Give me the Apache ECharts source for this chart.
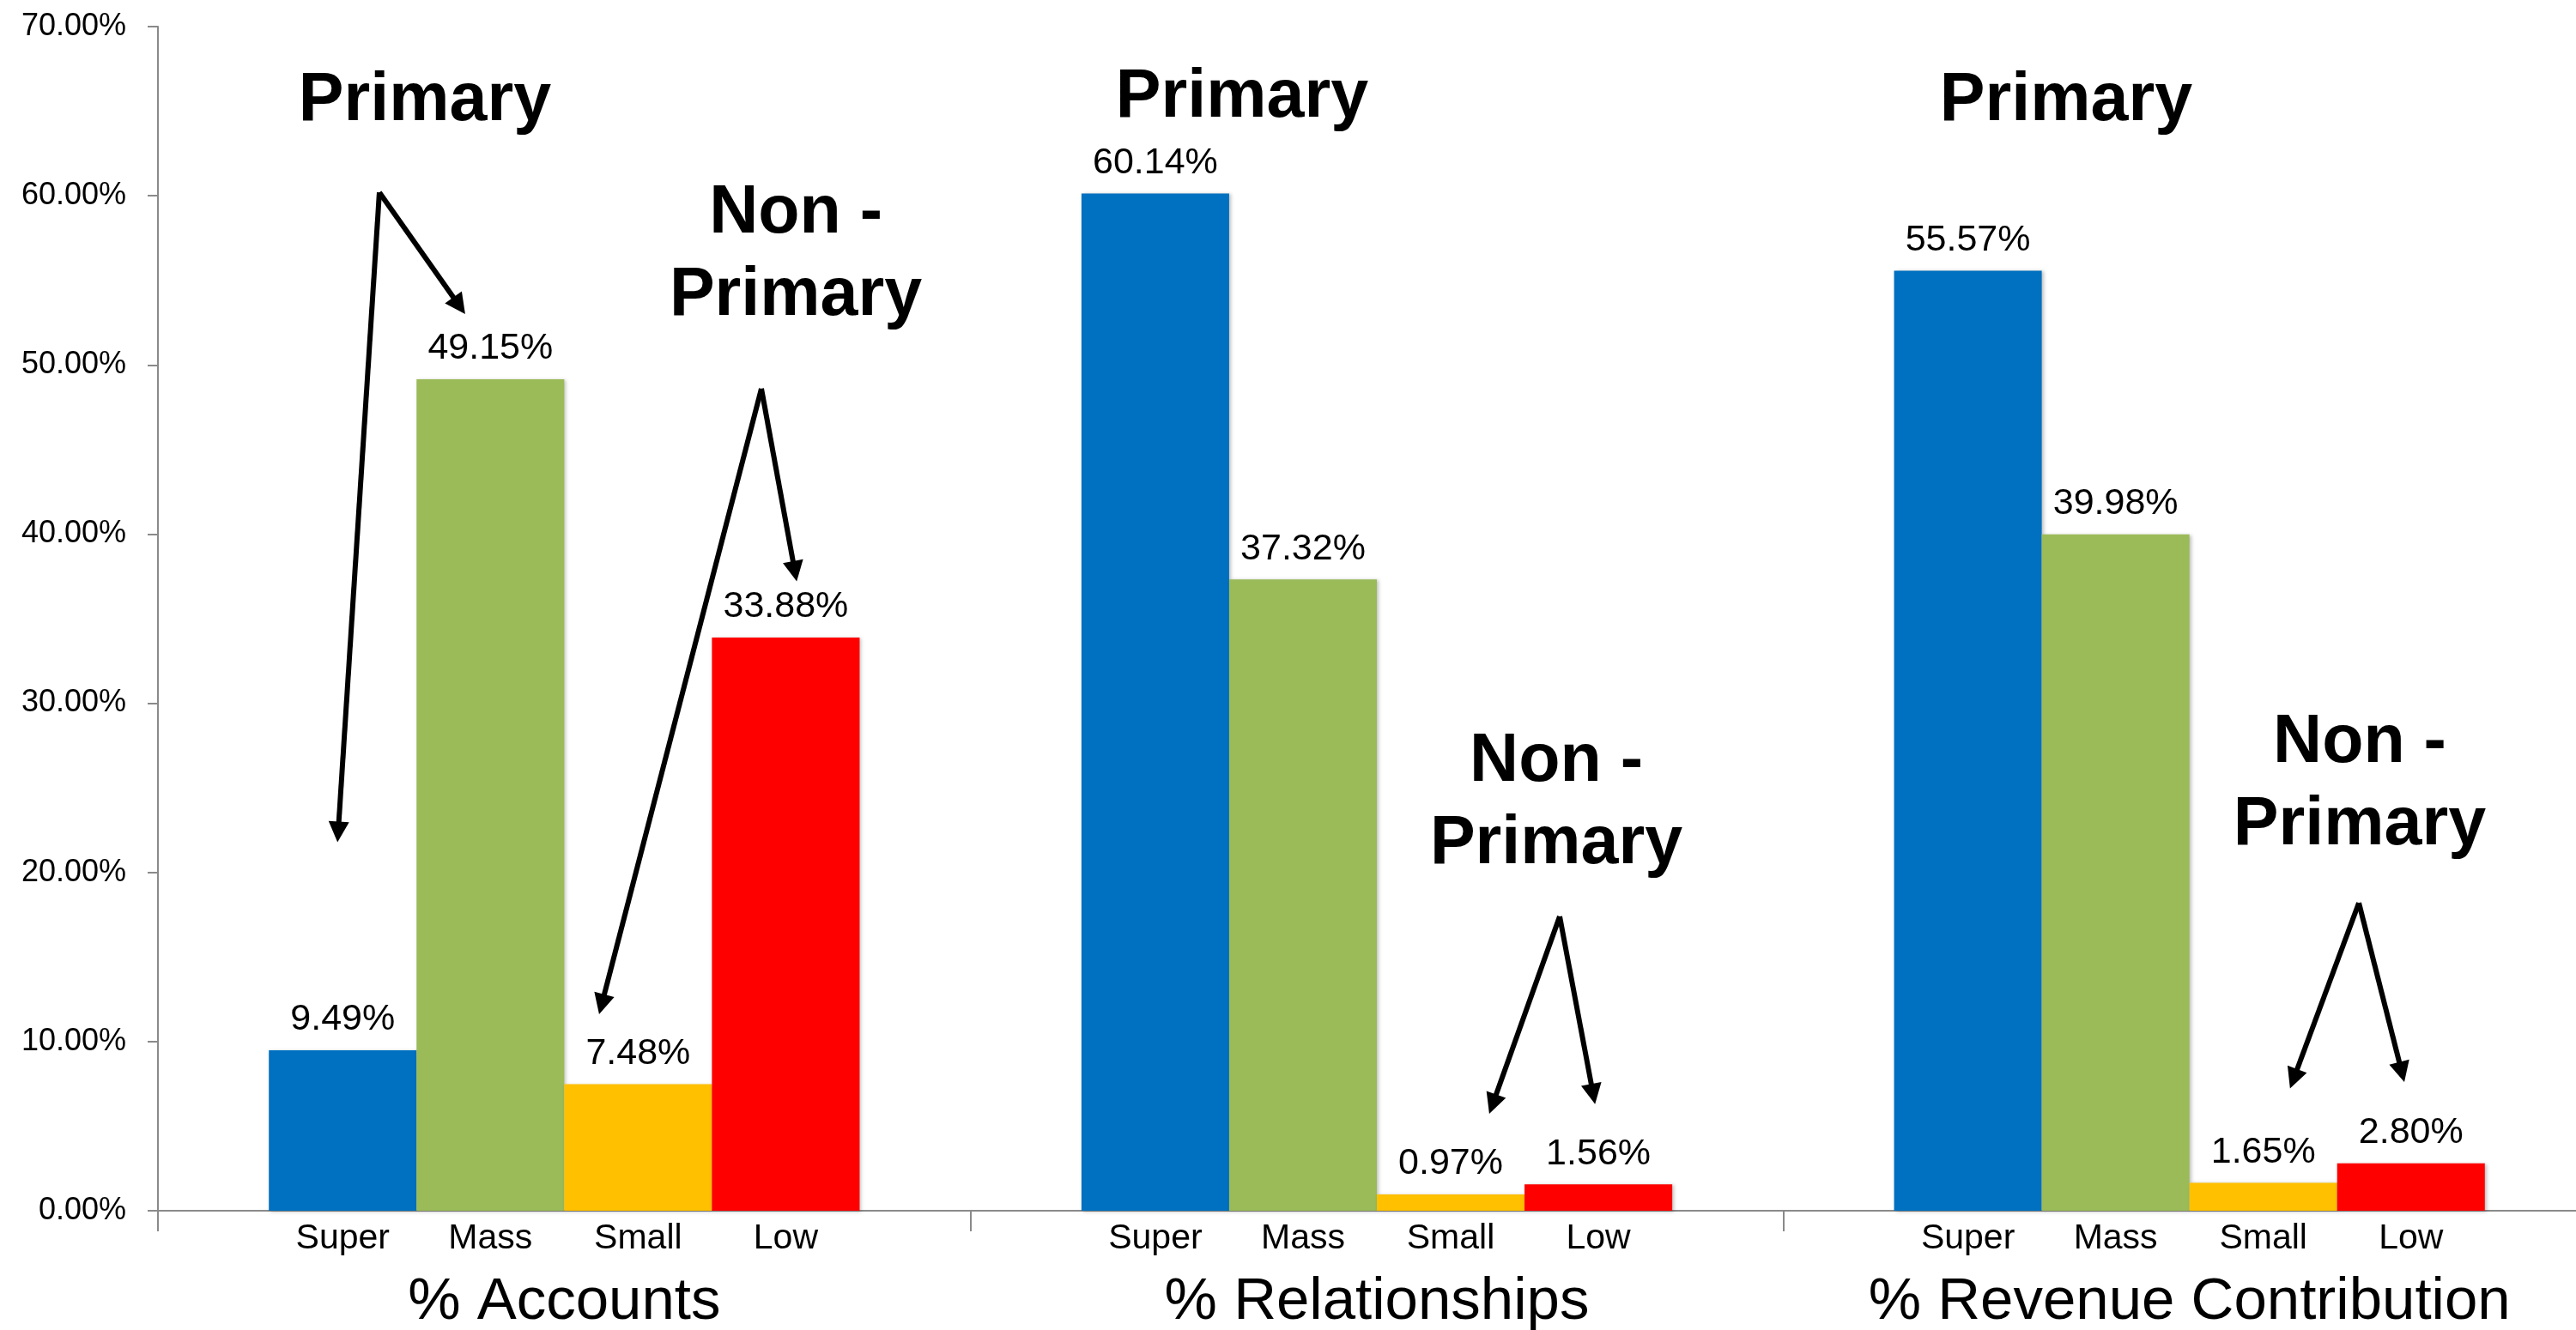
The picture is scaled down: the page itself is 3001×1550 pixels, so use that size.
<!DOCTYPE html>
<html>
<head>
<meta charset="utf-8">
<script src="https://cdn.jsdelivr.net/npm/echarts@6/dist/echarts.min.js"></script>
<style>
html,body{margin:0;padding:0;background:#fff;}
#chart{width:3001px;height:1550px;}
</style>
</head>
<body>
<div id="chart"></div>
<script>
// ---- data ----
const groups = ['% Accounts', '% Relationships', '% Revenue Contribution'];
const segments = ['Super', 'Mass', 'Small', 'Low'];
const superVals = [9.49, 60.14, 55.57];
const massVals = [49.15, 37.32, 39.98];
const smallVals = [7.48, 0.97, 1.65];
const lowVals = [33.88, 1.56, 2.80];
const segColors = ['#0070C0', '#9BBB59', '#FFC000', '#FF0000'];
const yMin = 0, yMax = 70, yStep = 10;

// annotation positions in (group units, percent) coordinates
const primaryLabelPos = [[0.3285, 65.6], [1.3341, 65.8], [2.3482, 65.6]];
const nonPrimaryLabelPos = [[0.7849, 56.5], [1.7208, 24.1], [2.7095, 25.2]];
const arrowLines = [
  [[0.2725, 60.2], [0.2218, 22.4]],
  [[0.2725, 60.2], [0.3708, 53.5]],
  [[0.7426, 48.6], [0.5461, 12.2]],
  [[0.7426, 48.6], [0.7838, 37.8]],
  [[1.7250, 17.4], [1.6426, 6.3]],
  [[1.7250, 17.4], [1.7662, 6.9]],
  [[2.7085, 18.2], [2.6282, 7.8]],
  [[2.7085, 18.2], [2.7613, 8.2]]
];

const seriesVals = [superVals, massVals, smallVals, lowVals];
const FONT = '"Liberation Sans", Arial, sans-serif';
const AXIS_GRAY = '#8a8a8a';

const chart = echarts.init(document.getElementById('chart'), null, {renderer: 'canvas'});

const barSeries = segments.map((name, si) => ({
  type: 'bar',
  name: name,
  xAxisIndex: 0,
  yAxisIndex: 0,
  data: seriesVals[si],
  barGap: '0%',
  barCategoryGap: '27.3%',
  itemStyle: {
    color: segColors[si],
    shadowColor: 'rgba(0,0,0,0.25)',
    shadowBlur: 4,
    shadowOffsetX: 2,
    shadowOffsetY: 1
  },
  label: {
    show: true,
    position: 'top',
    distance: 14,
    formatter: p => p.value.toFixed(2) + '%',
    fontFamily: FONT,
    fontSize: 43,
    color: '#000'
  },
  markPoint: {
    symbol: 'rect',
    symbolSize: 0,
    silent: true,
    itemStyle: {opacity: 1},
    data: groups.map(g => ({coord: [g, 0], value: 0})),
    label: {
      show: true,
      position: 'bottom',
      distance: 12,
      formatter: name,
      fontFamily: FONT,
      fontSize: 41,
      color: '#000'
    }
  },
  z: 2
}));

const option = {
  backgroundColor: '#fff',
  animation: false,
  grid: {left: 184, top: 31, width: 2840, height: 1380, containLabel: false, outerBoundsMode: 'none'},
  xAxis: [
    {
      type: 'category',
      data: groups,
      position: 'bottom',
      boundaryGap: true,
      axisLine: {show: true, lineStyle: {color: AXIS_GRAY, width: 2}},
      axisTick: {show: true, interval: 0, length: 24, lineStyle: {color: AXIS_GRAY, width: 2}},
      axisLabel: {
        show: true,
        interval: 0,
        hideOverlap: false,
        margin: 72,
        fontFamily: FONT,
        fontSize: 69,
        lineHeight: 69,
        color: '#000'
      },
      splitLine: {show: false}
    },
    {
      type: 'value',
      min: 0,
      max: 3,
      show: false,
      position: 'top'
    }
  ],
  yAxis: [{
    type: 'value',
    min: yMin,
    max: yMax,
    interval: yStep,
    axisLine: {show: true, lineStyle: {color: AXIS_GRAY, width: 2}},
    axisTick: {show: true, length: 12, lineStyle: {color: AXIS_GRAY, width: 2}},
    splitLine: {show: false},
    axisLabel: {
      margin: 37,
      fontFamily: FONT,
      fontSize: 36,
      color: '#000',
      formatter: v => v.toFixed(2) + '%'
    }
  }],
  series: barSeries.concat([
    {
      type: 'lines',
      coordinateSystem: 'cartesian2d',
      xAxisIndex: 1,
      yAxisIndex: 0,
      silent: true,
      symbol: ['none', 'triangle'],
      symbolSize: [22, 24],
      lineStyle: {color: '#000', width: 6, opacity: 1, curveness: 0},
      data: arrowLines.map(c => ({coords: c})),
      z: 5
    },
    {
      type: 'scatter',
      xAxisIndex: 1,
      yAxisIndex: 0,
      silent: true,
      symbolSize: 0,
      itemStyle: {opacity: 1},
      data: primaryLabelPos,
      label: {
        show: true,
        position: 'inside',
        formatter: 'Primary',
        fontFamily: FONT,
        fontWeight: 'bold',
        fontSize: 79,
        color: '#000',
        opacity: 1
      },
      z: 6
    },
    {
      type: 'scatter',
      xAxisIndex: 1,
      yAxisIndex: 0,
      silent: true,
      symbolSize: 0,
      itemStyle: {opacity: 1},
      data: nonPrimaryLabelPos,
      label: {
        show: true,
        position: 'inside',
        formatter: 'Non -\nPrimary',
        fontFamily: FONT,
        fontWeight: 'bold',
        fontSize: 79,
        lineHeight: 96,
        align: 'center',
        color: '#000',
        opacity: 1
      },
      z: 6
    }
  ])
};
chart.setOption(option);
</script>
</body>
</html>
